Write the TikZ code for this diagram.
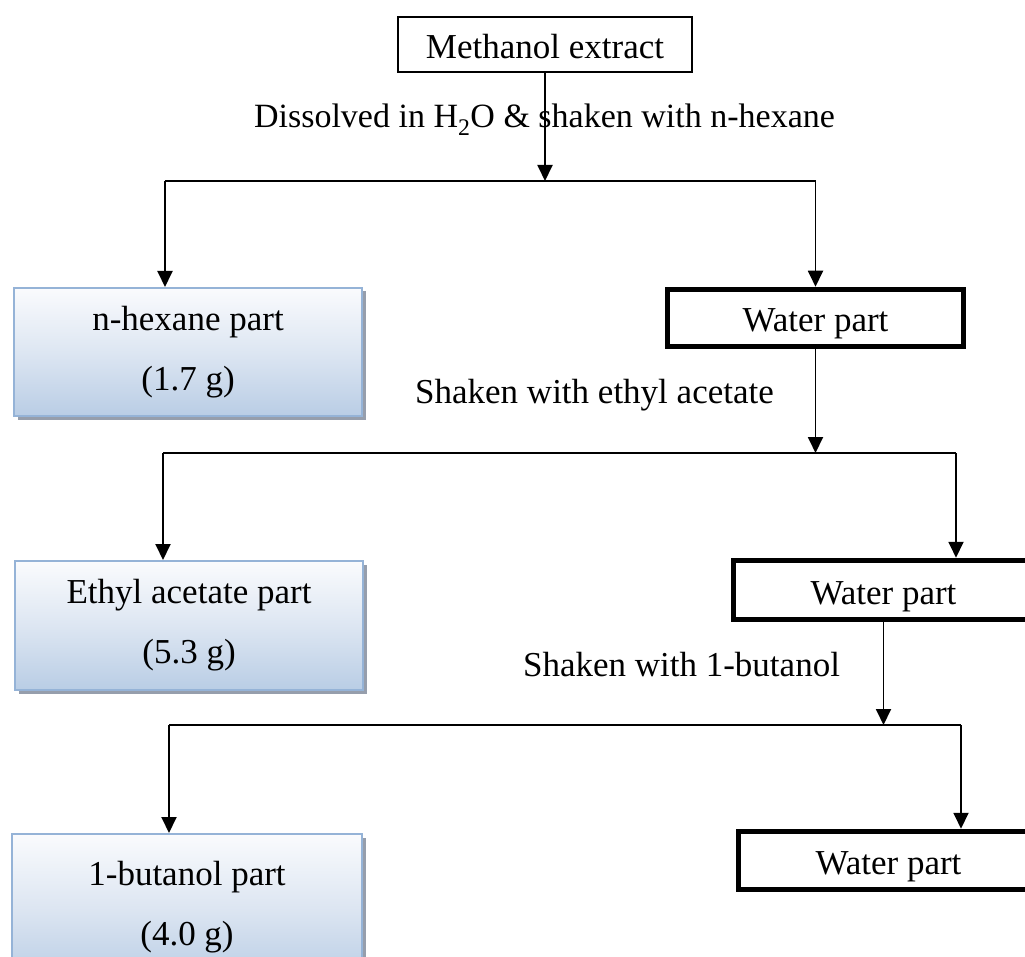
\documentclass[tikz,border=0pt]{standalone}
\usepackage{fontspec}
\setmainfont{Liberation Serif}
\usetikzlibrary{arrows.meta,shadows}
\definecolor{blueedge}{RGB}{149,179,215}
\definecolor{bluetop}{RGB}{250,251,253}
\definecolor{bluemid}{RGB}{221,230,242}
\definecolor{bluebot}{RGB}{185,205,229}
\definecolor{shadowgray}{RGB}{150,158,172}
\begin{document}
\begin{tikzpicture}[x=1pt,y=-1pt,
  every node/.style={font=\fontsize{35}{60}\selectfont, inner sep=0pt},
  plainbox/.style={draw=black, line width=1.6pt, fill=white, text height=28pt, text depth=0pt},
  waterbox/.style={draw=black, line width=5.5pt, fill=white, text height=28pt, text depth=0pt},
  bluebox/.style={draw=blueedge, line width=2pt, align=center,
    top color=bluetop, bottom color=bluebot, middle color=bluemid,
    drop shadow={shadow xshift=3.5pt, shadow yshift=-3.5pt, fill=shadowgray, opacity=1}},
  label/.style={anchor=base},
  conn/.style={draw=black, line width=1.9pt},
  arr/.style={conn, -{Triangle[length=16pt,width=15pt]}}
]
\useasboundingbox (0,0) rectangle (1025,957);
\fill[white] (0,0) rectangle (1025,957);

% boxes
\node[plainbox, minimum width=294.5pt, minimum height=55.5pt] (meth) at (545,44.5) {Methanol extract};
\node[bluebox, minimum width=348pt, minimum height=128pt] (hex) at (188,352) {n-hexane part\\(1.7 g)};
\node[waterbox, minimum width=296pt, minimum height=57pt] (wat1) at (815.5,318) {Water part};
\node[bluebox, minimum width=348pt, minimum height=129pt] (eth) at (189,625.5) {Ethyl acetate part\\(5.3 g)};
\node[waterbox, minimum width=300pt, minimum height=59pt] (wat2) at (883.5,590) {Water part};
\node[bluebox, minimum width=350pt, minimum height=146pt] (but) at (187,907) {1-butanol part\\(4.0 g)};
\node[waterbox, minimum width=300pt, minimum height=58pt] (wat3) at (888.5,860.5) {Water part};

% labels
\node[label, font=\fontsize{34}{60}\selectfont] (l1) at (544.5,128) {Dissolved in H\textsubscript{2}O \& shaken with n-hexane};
\node[label] (l2) at (594.5,403) {Shaken with ethyl acetate};
\node[label] (l3) at (681.5,676) {Shaken with 1-butanol};

% junction coordinates
\coordinate (j1) at (545,181);
\coordinate (j1l) at (165,181);
\coordinate (j1r) at (815.5,181);
\coordinate (j2) at (815.5,453);
\coordinate (j2l) at (163,453);
\coordinate (j2r) at (956,453);
\coordinate (j3) at (883.5,725);
\coordinate (j3l) at (169,725);
\coordinate (j3r) at (961,725);

% connectors
\draw[arr] (meth.south) -- (j1);
\draw[conn] (j1l) -- (j1r);
\draw[arr] (j1l) -- (j1l |- hex.north);
\draw[arr] (j1r) -- (wat1.north);

\draw[arr] (wat1.south) -- (j2);
\draw[conn] (j2l) -- (j2r);
\draw[arr] (j2l) -- (j2l |- eth.north);
\draw[arr] (j2r) -- (j2r |- wat2.north);

\draw[arr] (wat2.south) -- (j3);
\draw[conn] (j3l) -- (j3r);
\draw[arr] (j3l) -- (j3l |- but.north);
\draw[arr] (j3r) -- (j3r |- wat3.north);
\end{tikzpicture}
\end{document}
